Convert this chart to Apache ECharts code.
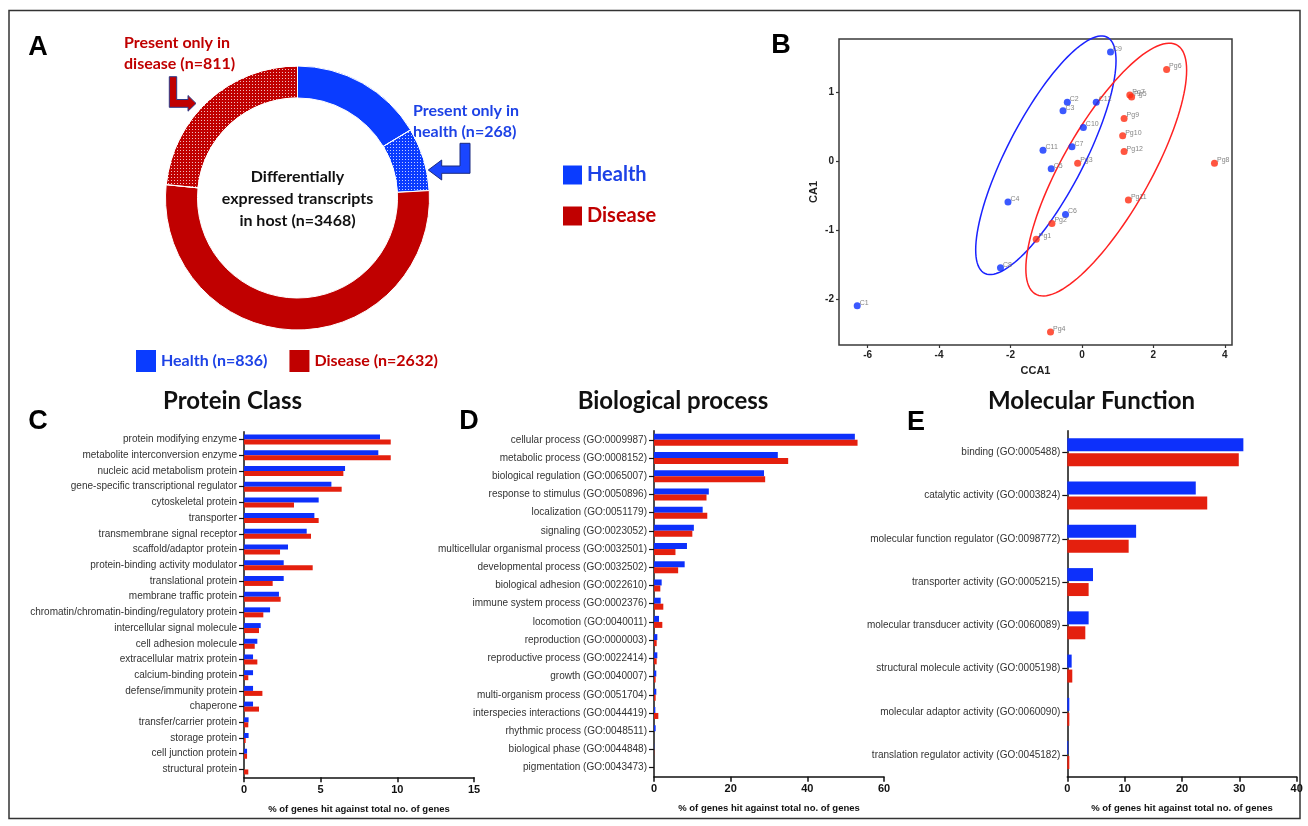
<!DOCTYPE html>
<html>
<head>
<meta charset="utf-8">
<script src="https://cdn.jsdelivr.net/npm/echarts@6/dist/echarts.min.js"></script>
<style>
  html, body { margin: 0; padding: 0; background: #ffffff; }
  #chart { width: 1308px; height: 826px; }
</style>
</head>
<body>
<div id="chart"></div>
<script>
// ---- A: differentially expressed transcripts ----
const groups = ['Health', 'Disease'];
const groupTotals = [836, 2632];
const groupExclusive = [268, 811];

// ---- B: canonical correspondence analysis scores ----
const healthLabels = ['C1', 'C2', 'C3', 'C4', 'C5', 'C6', 'C7', 'C8', 'C9', 'C10', 'C11', 'C12'];
const healthCCA1 = [-6.29, -0.41, -0.53, -2.07, -0.86, -0.46, -0.28, -2.28, 0.80, 0.04, -1.09, 0.40];
const healthCA1 = [-2.09, 0.855, 0.73, -0.59, -0.11, -0.77, 0.21, -1.54, 1.58, 0.49, 0.16, 0.855];
const diseaseLabels = ['Pg1', 'Pg2', 'Pg3', 'Pg4', 'Pg5', 'Pg6', 'Pg7', 'Pg8', 'Pg9', 'Pg10', 'Pg11', 'Pg12'];
const diseaseCCA1 = [-1.28, -0.84, -0.12, -0.88, 1.39, 2.37, 1.34, 3.71, 1.18, 1.14, 1.30, 1.18];
const diseaseCA1 = [-1.13, -0.90, -0.03, -2.47, 0.93, 1.33, 0.96, -0.03, 0.62, 0.37, -0.56, 0.14];
// group ellipses: centre x, centre y, half width, half height, correlation
const healthEllipse = [-1.01, 0.087, 1.964, 1.727, 0.793];
const diseaseEllipse = [0.68, -0.12, 2.25, 1.83, 0.785];
const ccaTicksX = [-6, -4, -2, 0, 2, 4];
const ccaTicksY = [-2, -1, 0, 1];

// ---- C: protein class ----
const proteinClasses = [
  'protein modifying enzyme', 'metabolite interconversion enzyme', 'nucleic acid metabolism protein',
  'gene-specific transcriptional regulator', 'cytoskeletal protein', 'transporter',
  'transmembrane signal receptor', 'scaffold/adaptor protein', 'protein-binding activity modulator',
  'translational protein', 'membrane traffic protein', 'chromatin/chromatin-binding/regulatory protein',
  'intercellular signal molecule', 'cell adhesion molecule', 'extracellular matrix protein',
  'calcium-binding protein', 'defense/immunity protein', 'chaperone', 'transfer/carrier protein',
  'storage protein', 'cell junction protein', 'structural protein'
];
const proteinHealth = [8.87, 8.76, 6.59, 5.70, 4.87, 4.59, 4.09, 2.87, 2.59, 2.59, 2.28, 1.70, 1.09, 0.87, 0.59, 0.59, 0.59, 0.59, 0.30, 0.30, 0.20, 0];
const proteinDisease = [9.57, 9.57, 6.48, 6.37, 3.26, 4.87, 4.37, 2.35, 4.48, 1.87, 2.39, 1.26, 0.98, 0.70, 0.87, 0.28, 1.20, 0.98, 0.28, 0.11, 0.20, 0.28];

// ---- D: biological process ----
const bioProcesses = [
  'cellular process (GO:0009987)', 'metabolic process (GO:0008152)', 'biological regulation (GO:0065007)',
  'response to stimulus (GO:0050896)', 'localization (GO:0051179)', 'signaling (GO:0023052)',
  'multicellular organismal process (GO:0032501)', 'developmental process (GO:0032502)',
  'biological adhesion (GO:0022610)', 'immune system process (GO:0002376)', 'locomotion (GO:0040011)',
  'reproduction (GO:0000003)', 'reproductive process (GO:0022414)', 'growth (GO:0040007)',
  'multi-organism process (GO:0051704)', 'interspecies interactions (GO:0044419)',
  'rhythmic process (GO:0048511)', 'biological phase (GO:0044848)', 'pigmentation (GO:0043473)'
];
const bioHealth = [52.4, 32.3, 28.7, 14.3, 12.7, 10.4, 8.6, 8.0, 2.0, 1.74, 1.3, 0.87, 0.87, 0.6, 0.6, 0.35, 0.43, 0.05, 0];
const bioDisease = [53.1, 35.0, 29.0, 13.7, 13.9, 10.0, 5.6, 6.3, 1.65, 2.43, 2.17, 0.7, 0.7, 0.43, 0.43, 1.13, 0, 0.05, 0];

// ---- E: molecular function ----
const molFunctions = [
  'binding (GO:0005488)', 'catalytic activity (GO:0003824)', 'molecular function regulator (GO:0098772)',
  'transporter activity (GO:0005215)', 'molecular transducer activity (GO:0060089)',
  'structural molecule activity (GO:0005198)', 'molecular adaptor activity (GO:0060090)',
  'translation regulator activity (GO:0045182)'
];
const molHealth = [30.7, 22.4, 12.0, 4.48, 3.72, 0.76, 0.35, 0.17];
const molDisease = [29.9, 24.4, 10.7, 3.72, 3.14, 0.87, 0.35, 0.35];

const pctAxisName = '% of genes hit against total no. of genes';

// ---- styling ----
const PIE_BLUE = '#0a3cff';
const PIE_RED = '#c00000';
const TXT_BLUE = '#1d42e6';
const BAR_BLUE = '#0d30fb';
const BAR_RED = '#e4200e';
const DOT_BLUE = '#0a30ff';
const DOT_RED = '#ff2a10';
const SANS = "'Liberation Sans', Arial, sans-serif";
const LATO = "Lato, 'Open Sans', sans-serif";

// fine white dot screen used for the "present only in" slices
const hatch = {
  symbol: 'rect', symbolSize: 1,
  dashArrayX: [1, 2], dashArrayY: [1, 2],
  color: 'rgba(255,255,255,0.75)'
};

const chart = echarts.init(document.getElementById('chart'), null, { renderer: 'canvas' });

function ellipseSeries(name, params, color) {
  return {
    type: 'custom', name: name, xAxisIndex: 0, yAxisIndex: 0, silent: true, z: 1,
    data: [params],
    encode: { x: 0, y: 1 },
    renderItem: function (p, api) {
      const cx = api.value(0), cy = api.value(1), hw = api.value(2), hh = api.value(3), r = api.value(4);
      const pts = [];
      for (let i = 0; i <= 120; i++) {
        const t = Math.PI * 2 * i / 120;
        pts.push(api.coord([cx + hw * Math.cos(t), cy + hh * (r * Math.cos(t) + Math.sqrt(1 - r * r) * Math.sin(t))]));
      }
      return { type: 'polygon', shape: { points: pts }, style: { fill: 'none', stroke: color, lineWidth: 1.5 } };
    }
  };
}

function pointSeries(name, labels, xs, ys, color) {
  return {
    type: 'scatter', name: name + ' samples', xAxisIndex: 0, yAxisIndex: 0, z: 3,
    symbolSize: 7,
    itemStyle: { color: color },
    label: {
      show: true, position: 'right', distance: 0, offset: [-1, -3],
      formatter: function (p) { return p.data[2]; },
      fontSize: 7, color: '#666', fontFamily: SANS
    },
    data: labels.map(function (l, i) { return [xs[i], ys[i], l]; })
  };
}

function barXAxis(idx, max, step) {
  return {
    type: 'value', gridIndex: idx, min: 0, max: max, interval: step,
    splitLine: { show: false },
    axisLine: { show: true, lineStyle: { color: '#111', width: 1.5 } },
    axisTick: { show: true, length: 5, lineStyle: { color: '#111', width: 1.5 } },
    axisLabel: { fontSize: 11, fontWeight: 'bold', color: '#111', margin: 7, fontFamily: SANS },
    name: pctAxisName, nameLocation: 'middle', nameGap: 27,
    nameTextStyle: { fontSize: 9.5, fontWeight: 'bold', color: '#111', fontFamily: SANS }
  };
}

function barYAxis(idx, cats) {
  return {
    type: 'category', gridIndex: idx, data: cats, inverse: true,
    axisLine: { show: true, lineStyle: { color: '#111', width: 1.5 } },
    axisTick: { show: true, alignWithLabel: true, length: 5, lineStyle: { color: '#111', width: 1.2 } },
    axisLabel: { fontSize: 10, color: '#333', margin: 7, fontFamily: SANS, interval: 0 }
  };
}

function barPair(idx, healthVals, diseaseVals, width, gap) {
  return [
    { type: 'bar', name: 'Health', xAxisIndex: idx, yAxisIndex: idx, data: healthVals,
      barWidth: width, barGap: gap, itemStyle: { color: BAR_BLUE } },
    { type: 'bar', name: 'Disease', xAxisIndex: idx, yAxisIndex: idx, data: diseaseVals,
      barWidth: width, barGap: gap, itemStyle: { color: BAR_RED } }
  ];
}

const hostTotal = groupTotals.reduce(function (a, b) { return a + b; }, 0);

function legendItems() {
  return [
    { name: groups[0], itemStyle: { color: PIE_BLUE }, textStyle: { color: TXT_BLUE } },
    { name: groups[1], itemStyle: { color: PIE_RED }, textStyle: { color: PIE_RED } }
  ];
}

function text(x, y, str, size, color, family, align, vAlign, lineHeight) {
  return {
    type: 'text', x: x, y: y, silent: true,
    style: {
      text: str, fontSize: size, fontWeight: 'bold', fontFamily: family, fill: color,
      align: align || 'center', verticalAlign: vAlign || 'middle', lineHeight: lineHeight || size * 1.25
    }
  };
}

const option = {
  backgroundColor: '#ffffff',
  animation: false,
  legend: [
    {
      data: legendItems(), orient: 'vertical', left: 558, top: 160,
      icon: 'rect', itemWidth: 19, itemHeight: 19, itemGap: 21, selectedMode: false,
      textStyle: { fontSize: 20, fontWeight: 'bold', fontFamily: LATO }
    },
    {
      data: legendItems(), orient: 'horizontal', left: 131, top: 345,
      icon: 'rect', itemWidth: 20, itemHeight: 22, itemGap: 22, selectedMode: false,
      formatter: function (name) { return name + ' (n=' + groupTotals[groups.indexOf(name)] + ')'; },
      textStyle: { fontSize: 16, fontWeight: 'bold', fontFamily: LATO }
    }
  ],
  grid: [
    { left: 839, top: 39, width: 393, height: 306, show: true, borderColor: '#3a3a3a', borderWidth: 1.5, backgroundColor: 'transparent' },
    { left: 244, top: 431.7, width: 230, height: 345.6 },
    { left: 654, top: 430.7, width: 230, height: 346 },
    { left: 1067.3, top: 430.7, width: 229.4, height: 346 }
  ],
  xAxis: [
    {
      type: 'value', gridIndex: 0, min: -6.8, max: 4.2,
      splitLine: { show: false }, axisLine: { show: false, onZero: false },
      axisTick: { show: true, length: 3, customValues: ccaTicksX, lineStyle: { color: '#333', width: 1.2 } },
      axisLabel: { customValues: ccaTicksX, fontSize: 10, fontWeight: 'bold', color: '#222', margin: 5, fontFamily: SANS },
      name: 'CCA1', nameLocation: 'middle', nameGap: 20,
      nameTextStyle: { fontSize: 11, fontWeight: 'bold', color: '#222', fontFamily: SANS }
    },
    barXAxis(1, 15, 5),
    barXAxis(2, 60, 20),
    barXAxis(3, 40, 10)
  ],
  yAxis: [
    {
      type: 'value', gridIndex: 0, min: -2.66, max: 1.77,
      splitLine: { show: false }, axisLine: { show: false, onZero: false },
      axisTick: { show: true, length: 3, customValues: ccaTicksY, lineStyle: { color: '#333', width: 1.2 } },
      axisLabel: { customValues: ccaTicksY, fontSize: 10, fontWeight: 'bold', color: '#222', margin: 5, fontFamily: SANS },
      name: 'CA1', nameLocation: 'middle', nameGap: 20,
      nameTextStyle: { fontSize: 11, fontWeight: 'bold', color: '#222', fontFamily: SANS }
    },
    barYAxis(1, proteinClasses),
    barYAxis(2, bioProcesses),
    barYAxis(3, molFunctions)
  ],
  series: [
    {
      type: 'pie', name: 'Transcripts', center: [297.5, 198], radius: [100, 132],
      startAngle: 90, clockwise: true, silent: true,
      label: { show: false }, labelLine: { show: false },
      itemStyle: { borderColor: '#ffffff', borderWidth: 1 },
      data: [
        { name: groups[0], value: groupTotals[0] - groupExclusive[0], itemStyle: { color: PIE_BLUE } },
        { name: 'Present only in health', value: groupExclusive[0], itemStyle: { color: PIE_BLUE, decal: hatch } },
        { name: groups[1], value: groupTotals[1] - groupExclusive[1], itemStyle: { color: PIE_RED } },
        { name: 'Present only in disease', value: groupExclusive[1], itemStyle: { color: PIE_RED, decal: hatch } }
      ]
    },
    ellipseSeries('Health ellipse', healthEllipse, '#1a22ff'),
    ellipseSeries('Disease ellipse', diseaseEllipse, '#ff2222'),
    pointSeries('Health', healthLabels, healthCCA1, healthCA1, DOT_BLUE),
    pointSeries('Disease', diseaseLabels, diseaseCCA1, diseaseCA1, DOT_RED)
  ]
    .concat(barPair(1, proteinHealth, proteinDisease, 5, '0%'))
    .concat(barPair(2, bioHealth, bioDisease, 6, '0%'))
    .concat(barPair(3, molHealth, molDisease, 13, '15%')),
  graphic: [
    { type: 'rect', silent: true, shape: { x: 9, y: 10.5, width: 1291, height: 808 },
      style: { fill: 'none', stroke: '#333333', lineWidth: 1.5 } },
    // panel letters
    text(38, 48, 'A', 27, '#000', SANS),
    text(781, 46, 'B', 27, '#000', SANS),
    text(38, 422, 'C', 27, '#000', SANS),
    text(469, 422, 'D', 27, '#000', SANS),
    text(916, 423, 'E', 27, '#000', SANS),
    // panel titles
    text(232.5, 401, 'Protein Class', 24, '#111', LATO),
    text(673, 401, 'Biological process', 24, '#111', LATO),
    text(1091.5, 401, 'Molecular Function', 24, '#111', LATO),
    // donut annotations
    text(297.5, 199, 'Differentially\nexpressed transcripts\nin host (n=' + hostTotal + ')', 16, '#111', LATO, 'center', 'middle', 22),
    text(124, 32.5, 'Present only in\ndisease (n=' + groupExclusive[1] + ')', 16, PIE_RED, LATO, 'left', 'top', 21),
    text(413, 100, 'Present only in\nhealth (n=' + groupExclusive[0] + ')', 16, TXT_BLUE, LATO, 'left', 'top', 21),
    // pointer arrows
    { type: 'polygon', silent: true,
      shape: { points: [[169.3, 76.7], [176.7, 76.7], [176.7, 99.5], [188, 99.5], [188, 95.5], [196, 103.4], [188, 111.2], [188, 107.3], [169.3, 107.3]] },
      style: { fill: '#c00000', stroke: '#2c3a8a', lineWidth: 1 } },
    { type: 'polygon', silent: true,
      shape: { points: [[460, 143.3], [470, 143.3], [470, 173.3], [441.7, 173.3], [441.7, 180], [428.3, 170], [441.7, 160], [441.7, 166], [460, 166]] },
      style: { fill: '#1a46ff', stroke: '#1b2a80', lineWidth: 1 } }
  ]
};

chart.setOption(option);
</script>
</body>
</html>
